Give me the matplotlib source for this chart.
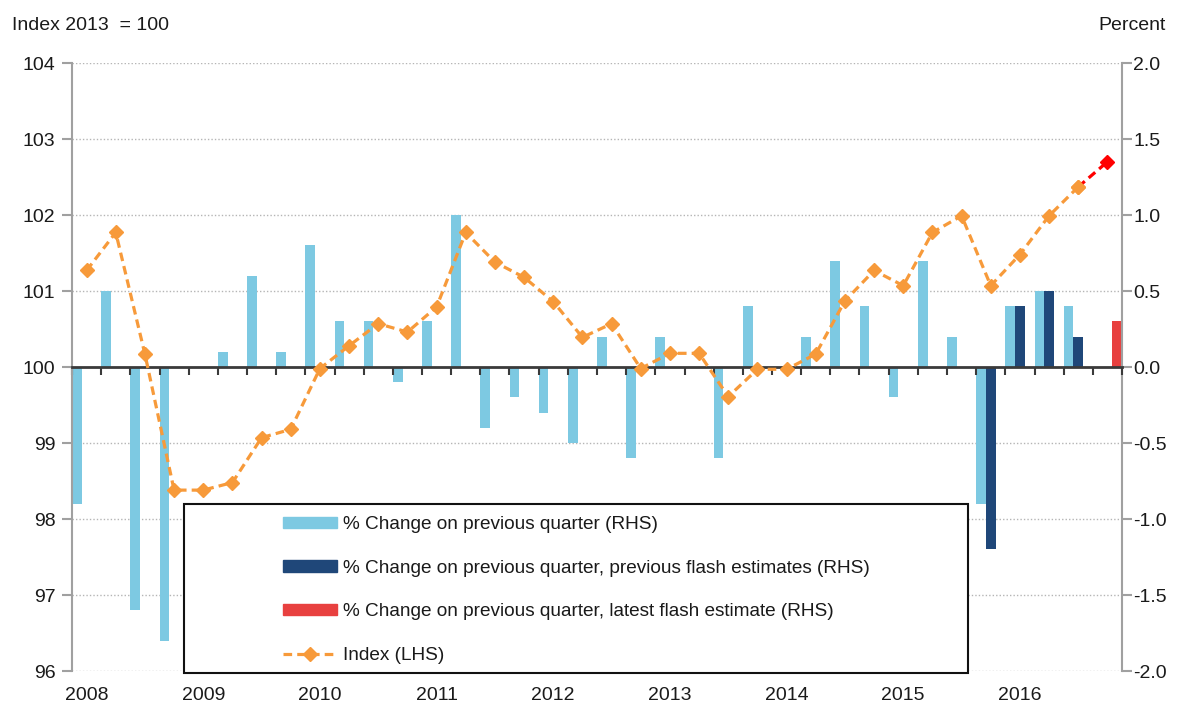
import numpy as np
import matplotlib.pyplot as plt
from matplotlib.patches import Rectangle
from matplotlib.lines import Line2D
from matplotlib.patches import Patch
import matplotlib.transforms as mtransforms

plt.rcParams['font.family'] = ['Liberation Sans', 'DejaVu Sans']

# quarterly data, 2008 Q1 .. 2016 Q4
years = ['2008', '2009', '2010', '2011', '2012', '2013', '2014', '2015', '2016']

pct_change = [-0.9, 0.5, -1.6, -1.8, 0.0, 0.1, 0.6, 0.1,
              0.8, 0.3, 0.3, -0.1, 0.3, 1.0, -0.4, -0.2,
              -0.3, -0.5, 0.2, -0.6, 0.2, 0.0, -0.6, 0.4,
              0.0, 0.2, 0.7, 0.4, -0.2, 0.7, 0.2, -0.9,
              0.4, 0.5, 0.4, np.nan]
prev_flash = [np.nan] * 31 + [-1.2, 0.4, 0.5, 0.2, np.nan]
latest_flash = [np.nan] * 35 + [0.3]

index = [101.27, 101.77, 100.17, 98.38, 98.38, 98.48, 99.07, 99.18,
         99.98, 100.28, 100.57, 100.46, 100.79, 101.77, 101.38, 101.18,
         100.86, 100.39, 100.57, 99.98, 100.18, 100.18, 99.61, 99.97,
         99.97, 100.17, 100.87, 101.27, 101.07, 101.77, 101.99, 101.07,
         101.48, 101.99, 102.37, 102.70]

labels = ['% Change on previous quarter (RHS)',
          '% Change on previous quarter, previous flash estimates (RHS)',
          '% Change on previous quarter, latest flash estimate (RHS)',
          'Index (LHS)']

c_light = '#7DC9E2'
c_dark = '#1F4779'
c_red = '#E8403F'
c_orange = '#F79A3A'
c_text = '#1a1a1a'
c_spine = '#a0a0a0'

W, H = 1179, 706
fig = plt.figure(figsize=(W / 100, H / 100), dpi=100)
ax = fig.add_axes([72 / W, 1 - 671 / H, (1122 - 72) / W, (671 - 63) / H])
ax2 = ax.twinx()
ax.set_zorder(ax2.get_zorder() + 1)
ax.patch.set_visible(False)

n = len(index)
x = np.arange(n)
bw = 0.33

ax2.bar(x + 1 / 6, pct_change, width=bw, color=c_light, zorder=2)
ax2.bar(x + 1 / 2, prev_flash, width=bw, color=c_dark, zorder=2)
ax2.bar(x + 5 / 6, latest_flash, width=bw, color=c_red, zorder=2)

xc = x + 0.5
ax.plot(xc[:-1], index[:-1], color=c_orange, lw=2.3, dashes=(2.7, 1.6),
        marker='D', ms=7, mec=c_orange, mfc=c_orange, zorder=3)
ax.plot(xc[-2:], index[-2:], color='#FF0000', lw=2.3, dashes=(2.7, 1.6),
        zorder=3)
ax.plot(xc[-1:], index[-1:], color='#FF0000', marker='D', ms=7, ls='none', zorder=4)
ax.plot(xc[-2:-1], index[-2:-1], color=c_orange, marker='D', ms=7, ls='none', zorder=4)

ax.set_xlim(0, n)
ax.set_ylim(96, 104)
ax2.set_ylim(-2, 2)
ax.set_yticks(np.arange(96, 105, 1))
ax2.set_yticks(np.arange(-2, 2.01, 0.5))
ax2.set_yticklabels(['%.1f' % v for v in np.arange(-2, 2.01, 0.5)])

# grid
for v in range(96, 105):
    if v != 100:
        ax2.axhline((v - 100) / 2, color='#b5b5b5', lw=1, ls=(0, (1, 1.5)), zorder=0)

for a in (ax, ax2):
    a.spines['top'].set_visible(False)
ax.spines['left'].set_color(c_spine)
ax.spines['left'].set_linewidth(1.5)
ax.spines['right'].set_visible(False)
ax2.spines['left'].set_visible(False)
ax2.spines['right'].set_color(c_spine)
ax2.spines['right'].set_linewidth(1.5)
ax2.spines['bottom'].set_visible(False)

ax.spines['bottom'].set_position(('data', 100))
ax.spines['bottom'].set_color('#3a3a3a')
ax.spines['bottom'].set_linewidth(2)
ax.set_xticks(np.arange(0, n + 1))
ax.tick_params(axis='x', length=6, width=1.5, color='#3a3a3a', labelbottom=False, direction='out')
ax.tick_params(axis='y', length=7, width=1.5, color=c_spine, labelsize=14, labelcolor=c_text, pad=5)
ax2.tick_params(axis='y', length=7, width=1.5, color=c_spine, labelsize=14, labelcolor=c_text, pad=1)

trans = mtransforms.blended_transform_factory(ax.transData, ax.transAxes)
for k, yr in enumerate(years):
    ax.text(4 * k + 0.5, -0.041, yr, transform=trans, ha='center', va='center',
            fontsize=14, color=c_text)

fig.text(12 / W, 1 - 25 / H, 'Index 2013  = 100', ha='left', va='center', fontsize=14, color=c_text)
fig.text(1166 / W, 1 - 25 / H, 'Percent', ha='right', va='center', fontsize=14, color=c_text)

# legend box
fig.add_artist(Rectangle((184 / W, 1 - 673 / H), (968 - 184) / W, (673 - 504) / H,
                         transform=fig.transFigure, facecolor='white', edgecolor='#111111',
                         lw=1.5, zorder=4))
handles = [Patch(color=c_light), Patch(color=c_dark), Patch(color=c_red),
           Line2D([], [], color=c_orange, lw=2.3, dashes=(2.7, 1.6), marker='D', ms=7)]
fig.legend(handles, labels, loc='upper left', bbox_to_anchor=(283 / W, 1 - 516 / H),
           frameon=False, fontsize=13.7, labelspacing=1.4, handlelength=2.85,
           handleheight=0.55, handletextpad=0.3, borderpad=0, borderaxespad=0,
           labelcolor=c_text).set_zorder(5)

fig.savefig('out.png', dpi=100)
